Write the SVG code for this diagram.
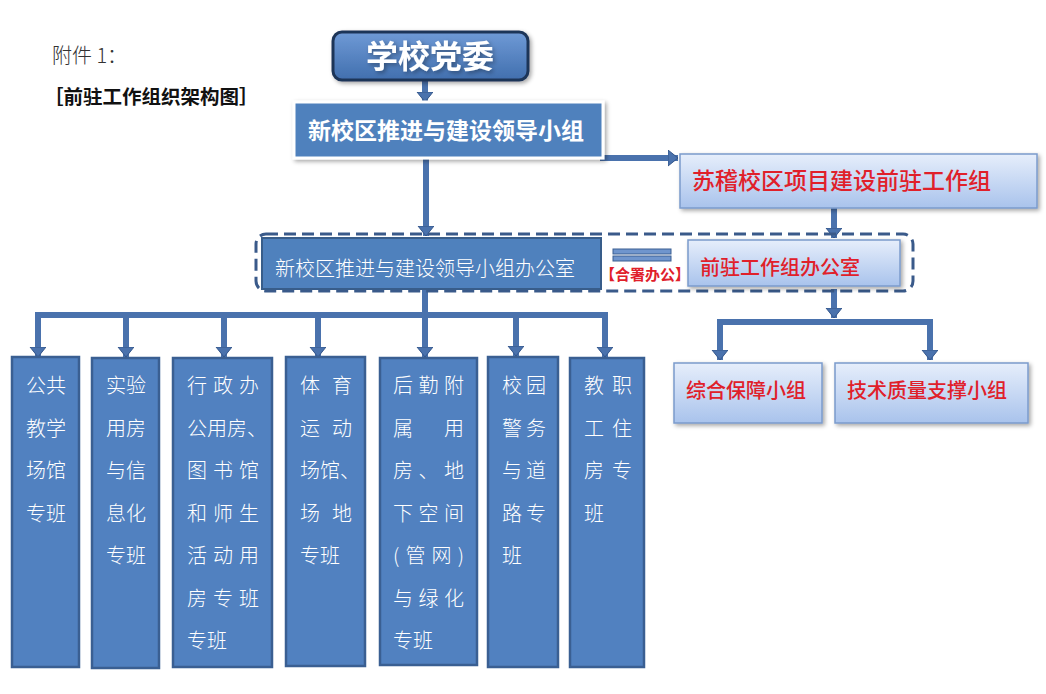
<svg xmlns="http://www.w3.org/2000/svg" width="1046" height="694" viewBox="0 0 1046 694">
<defs>
<linearGradient id="lg" x1="0" y1="0" x2="0" y2="1">
<stop offset="0" stop-color="#e6eefb"/><stop offset="1" stop-color="#a9c3ec"/>
</linearGradient>
<linearGradient id="tg" x1="0" y1="0" x2="0" y2="1">
<stop offset="0" stop-color="#6f9ad6"/><stop offset="1" stop-color="#416fae"/>
</linearGradient>
<filter id="sh" x="-10%" y="-10%" width="125%" height="130%">
<feDropShadow dx="2" dy="2" stdDeviation="2" flood-color="#000" flood-opacity="0.35"/>
</filter>
<marker id="ah" markerUnits="userSpaceOnUse" markerWidth="18" markerHeight="18" refX="10" refY="8" orient="auto">
<path d="M0,0 L10,8 L0,16 Z" fill="#4a72ad" stroke="#34568a" stroke-width="1"/>
</marker>
</defs>
<style>
.cn{font-family:"Noto Sans CJK SC","Noto Sans",sans-serif;}
.col{fill:#5181c0;stroke:#3a5f92;stroke-width:2.5;}
.ct{fill:#ffffff;font-size:20px;font-family:"Noto Sans CJK SC","Noto Sans",sans-serif;font-weight:300;}
.lb{fill:url(#lg);stroke:#7b9bcc;stroke-width:1.5;filter:url(#sh);}
.rt{fill:#e0202a;font-family:"Noto Sans CJK SC","Noto Sans",sans-serif;}
.ln{fill:none;stroke:#4a72ad;stroke-width:6;}
.la{fill:none;stroke:#4a72ad;stroke-width:6;marker-end:url(#ah);}
</style>
<rect width="1046" height="694" fill="#ffffff"/>
<g id="title">
<text x="52" y="63" class="cn" font-size="20" fill="#333" font-weight="300">附件 1：</text>
<text x="44" y="104" class="cn" font-size="19.5" fill="#111" font-weight="700">［前驻工作组织架构图］</text>
</g>
<g id="connectors">
<line class="la" x1="425" y1="80" x2="425" y2="102"/>
<line class="la" x1="600" y1="158" x2="678" y2="158"/>
<line class="la" x1="426" y1="158" x2="426" y2="236"/>
<line class="la" x1="834" y1="208" x2="834" y2="238"/>
<line class="ln" x1="425" y1="289" x2="425" y2="315"/>
<polyline class="ln" points="38,358 38,315 605,315 605,340"/>
<line class="la" x1="38" y1="318" x2="38" y2="357"/>
<line class="la" x1="126" y1="315" x2="126" y2="357"/>
<line class="la" x1="224" y1="315" x2="224" y2="357"/>
<line class="la" x1="318" y1="315" x2="318" y2="357"/>
<line class="la" x1="425" y1="315" x2="425" y2="357"/>
<line class="la" x1="516" y1="315" x2="516" y2="356"/>
<line class="la" x1="605" y1="318" x2="605" y2="357"/>
<line class="la" x1="834" y1="289" x2="834" y2="318"/>
<polyline class="ln" points="720,335 720,322 930,322 930,335"/>
<line class="la" x1="720" y1="322" x2="720" y2="360"/>
<line class="la" x1="930" y1="322" x2="930" y2="360"/>
</g>
<g id="n_dangwei">
<rect x="333" y="32" width="195" height="48" rx="9" fill="url(#tg)" stroke="#1f3559" stroke-width="3" filter="url(#sh)"/>
<text x="430" y="68" text-anchor="middle" class="cn" font-size="32" font-weight="700" fill="#ffffff" filter="url(#sh)">学校党委</text>
</g>
<g id="n_lingdao">
<rect x="294" y="102" width="309" height="56" fill="#4f81bd" stroke="#ffffff" stroke-width="3" filter="url(#sh)"/>
<text x="446" y="139" text-anchor="middle" class="cn" font-size="23" font-weight="700" fill="#ffffff">新校区推进与建设领导小组</text>
</g>
<g id="n_qianzhu">
<rect x="680" y="154" width="357" height="54" class="lb"/>
<text x="692" y="189" class="rt" font-size="23" font-weight="500">苏稽校区项目建设前驻工作组</text>
</g>
<g id="n_office_area">
<rect x="256" y="234" width="657" height="57" rx="10" fill="none" stroke="#3a5a8a" stroke-width="3" stroke-dasharray="12 6"/>
</g>
<g id="n_ld_office">
<rect x="262" y="238" width="339" height="51" fill="#4f81bd" stroke="#385d8a" stroke-width="2"/>
<text x="275" y="276" class="cn" font-size="20" font-weight="300" fill="#ffffff">新校区推进与建设领导小组办公室</text>
</g>
<g id="n_heshu">
<rect x="613" y="249" width="58" height="5" fill="#6f95cd" stroke="#3a5f92" stroke-width="1"/>
<rect x="613" y="256" width="58" height="5" fill="#6f95cd" stroke="#3a5f92" stroke-width="1"/>
<text x="600" y="280" class="rt" font-size="15" font-weight="700">【合署办公】</text>
</g>
<g id="n_qz_office">
<rect x="688" y="240" width="212" height="46" class="lb"/>
<text x="700" y="275" class="rt" font-size="20" font-weight="500">前驻工作组办公室</text>
</g>
<g id="n_zonghe">
<rect x="674" y="363" width="148" height="60" class="lb"/>
<text x="686" y="398" class="rt" font-size="20" font-weight="500">综合保障小组</text>
</g>
<g id="n_jishu">
<rect x="835" y="363" width="193" height="60" class="lb"/>
<text x="847" y="398" class="rt" font-size="20" font-weight="500">技术质量支撑小组</text>
</g>
<g id="c1">
<rect x="12" y="357" width="67" height="310" class="col"/>
<text class="ct" x="26"><tspan x="26" y="393">公共</tspan><tspan x="26" y="436">教学</tspan><tspan x="26" y="478">场馆</tspan><tspan x="26" y="521">专班</tspan></text>
</g>
<g id="c2">
<rect x="92" y="358" width="67" height="310" class="col"/>
<text class="ct"><tspan x="106" y="393">实验</tspan><tspan x="106" y="436">用房</tspan><tspan x="106" y="478">与信</tspan><tspan x="106" y="521">息化</tspan><tspan x="106" y="563">专班</tspan></text>
</g>
<g id="c3">
<rect x="173" y="358" width="99" height="309" class="col"/>
<text class="ct" x="187" y="393" textLength="72" lengthAdjust="spacing">行政办</text>
<text class="ct" x="187" y="436">公用房、</text>
<text class="ct" x="187" y="478" textLength="72" lengthAdjust="spacing">图书馆</text>
<text class="ct" x="187" y="521" textLength="72" lengthAdjust="spacing">和师生</text>
<text class="ct" x="187" y="563" textLength="72" lengthAdjust="spacing">活动用</text>
<text class="ct" x="187" y="606" textLength="72" lengthAdjust="spacing">房专班</text>
<text class="ct" x="187" y="648">专班</text>
</g>
<g id="c4">
<rect x="286" y="357" width="79" height="309" class="col"/>
<text class="ct" x="300" y="393" textLength="52" lengthAdjust="spacing">体育</text>
<text class="ct" x="300" y="436" textLength="52" lengthAdjust="spacing">运动</text>
<text class="ct" x="300" y="478">场馆、</text>
<text class="ct" x="300" y="521" textLength="52" lengthAdjust="spacing">场地</text>
<text class="ct" x="300" y="563">专班</text>
</g>
<g id="c5">
<rect x="380" y="358" width="97" height="307" class="col"/>
<text class="ct" x="393" y="393" textLength="71" lengthAdjust="spacing">后勤附</text>
<text class="ct" x="393" y="436" textLength="71" lengthAdjust="spacing">属用</text>
<text class="ct" x="393" y="478" textLength="71" lengthAdjust="spacing">房、地</text>
<text class="ct" x="393" y="521" textLength="71" lengthAdjust="spacing">下空间</text>
<text class="ct" x="393" y="563" textLength="71" lengthAdjust="spacing">(管网)</text>
<text class="ct" x="393" y="606" textLength="71" lengthAdjust="spacing">与绿化</text>
<text class="ct" x="393" y="648">专班</text>
</g>
<g id="c6">
<rect x="488" y="357" width="70" height="310" class="col"/>
<text class="ct" x="502" y="393" textLength="44" lengthAdjust="spacing">校园</text>
<text class="ct" x="502" y="436" textLength="44" lengthAdjust="spacing">警务</text>
<text class="ct" x="502" y="478" textLength="44" lengthAdjust="spacing">与道</text>
<text class="ct" x="502" y="521" textLength="44" lengthAdjust="spacing">路专</text>
<text class="ct" x="502" y="563">班</text>
</g>
<g id="c7">
<rect x="570" y="358" width="74" height="309" class="col"/>
<text class="ct" x="584" y="393" textLength="48" lengthAdjust="spacing">教职</text>
<text class="ct" x="584" y="436" textLength="48" lengthAdjust="spacing">工住</text>
<text class="ct" x="584" y="478" textLength="48" lengthAdjust="spacing">房专</text>
<text class="ct" x="584" y="521">班</text>
</g>
</svg>
